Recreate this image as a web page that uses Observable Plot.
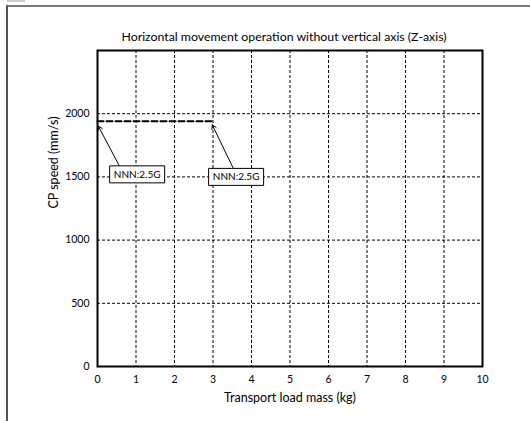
<!DOCTYPE html>
<html>
<head>
<meta charset="utf-8">
<script src="https://cdn.jsdelivr.net/npm/d3@7"></script>
<script src="https://cdn.jsdelivr.net/npm/@observablehq/plot@0.6"></script>
<style>
  html, body { margin: 0; padding: 0; background: #fff; }
  #wrap { position: relative; width: 530px; height: 421px; overflow: hidden; }
  #frameTop { position: absolute; left: 6px; top: 5px; width: 524px; height: 2px; background: #7a7a7a; }
  #frameLeft { position: absolute; left: 6px; top: 5px; width: 2px; height: 416px; background: #555; }
  #hdr { position: absolute; left: 7px; top: 0; width: 18px; height: 2px; background: #ccc; }
  #chart { position: absolute; left: 0; top: 0; }
  svg { font-family: Lato, "Noto Sans", sans-serif; }
</style>
</head>
<body>
<div id="wrap">
  <div id="hdr"></div>
  <div id="frameTop"></div>
  <div id="frameLeft"></div>
  <div id="chart"></div>
</div>
<script>
const title = "Horizontal movement operation without vertical axis (Z-axis)";
const xLabel = "Transport load mass (kg)";
const yLabel = "CP speed (mm/s)";
const xTicks = [0, 1, 2, 3, 4, 5, 6, 7, 8, 9, 10];
const yTicks = [0, 500, 1000, 1500, 2000];
const xGrid = [1, 2, 3, 4, 5, 6, 7, 8, 9];
const yGrid = [500, 1000, 1500, 2000];
const seriesMass = [0, 3];
const seriesSpeed = [1940, 1940];
const noteText = ["NNN:2.5G", "NNN:2.5G"];
const noteX = [1.03, 3.6];
const noteY = [1520, 1500];
const noteTailX = [0.57, 3.52];
const noteTailY = [1586, 1572];
const noteTipX = [0.02, 2.98];
const noteTipY = [1902, 1912];

const series = seriesMass.map((m, i) => ({mass: m, speed: seriesSpeed[i]}));
const notes = noteText.map((t, i) => ({
  text: t, x: noteX[i], y: noteY[i],
  x1: noteTailX[i], y1: noteTailY[i], x2: noteTipX[i], y2: noteTipY[i]
}));

const boxSymbol = { draw(ctx) { ctx.rect(-27.5, -8.5, 55, 17); } };
const fmt = d => String(d);

const chart = Plot.plot({
  width: 530,
  height: 421,
  marginLeft: 97,
  marginRight: 48,
  marginTop: 50,
  marginBottom: 55,
  style: { fontSize: "10.5px", color: "#000", background: "transparent" },
  x: { domain: [0, 10] },
  y: { domain: [0, 2500] },
  marks: [
    Plot.ruleX(xGrid, { stroke: "#000", strokeWidth: 1, strokeDasharray: "3,2" }),
    Plot.ruleY(yGrid, { stroke: "#000", strokeWidth: 1, strokeDasharray: "3,2" }),
    Plot.axisX(xTicks, { tickSize: 0, tickPadding: 9, tickFormat: fmt, label: null, fontSize: 10.5 }),
    Plot.axisY(yTicks, { tickSize: 0, tickPadding: 8, tickFormat: fmt, label: null, fontSize: 10.5 }),
    Plot.text([xLabel], { frameAnchor: "bottom", lineAnchor: "middle", dy: 31, text: d => d, fontSize: 12.5, fill: "#000" }),
    Plot.text([yLabel], { frameAnchor: "left", dx: -44, rotate: -90, text: d => d, fontSize: 12.5, fill: "#000" }),
    Plot.line(series, { x: "mass", y: "speed", stroke: "#000", strokeWidth: 2, strokeDasharray: "6,3" }),
    Plot.arrow(notes, { x1: "x1", y1: "y1", x2: "x2", y2: "y2", stroke: "#000", strokeWidth: 1, headLength: 7, bend: 0 }),
    Plot.dot(notes, { x: "x", y: "y", symbol: boxSymbol, fill: "#fff", stroke: "#000", strokeWidth: 1, r: 5 }),
    Plot.text(notes, { x: "x", y: "y", text: "text", fontSize: 10, fill: "#000" }),
    Plot.frame({ stroke: "#000", strokeWidth: 2 }),
    Plot.text([title], { frameAnchor: "top", lineAnchor: "middle", dy: -13, dx: -6, text: d => d, fontSize: 12.3, fill: "#000" })
  ]
});
document.getElementById("chart").appendChild(chart);
</script>
</body>
</html>
